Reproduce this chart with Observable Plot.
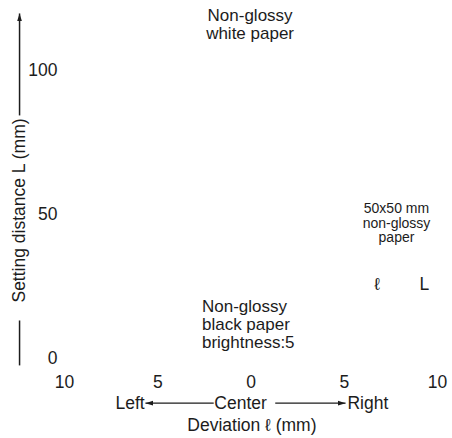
<!DOCTYPE html>
<html>
<head>
<meta charset="utf-8">
<script src="https://cdn.jsdelivr.net/npm/d3@7"></script>
<script src="https://cdn.jsdelivr.net/npm/@observablehq/plot@0.6"></script>
<style>
  html, body { margin: 0; padding: 0; background: #fff; }
</style>
</head>
<body>
<script>
// ---- data ----
const xTicks = [-10, -5, 0, 5, 10];
const yTicks = [0, 50, 100];
const xDomain = [-10, 10];
const yDomain = [0, 100];
const xTitle = "Deviation ℓ (mm)";
const yTitle = "Setting distance L (mm)";
const dirWords = ["Left", "Center", "Right"];
const dirX = [-5.7, -0.56, 5.17];
const noteTexts = ["Non-glossy\nwhite paper", "Non-glossy\nblack paper\nbrightness:5", "ℓ", "L"];
const noteX = [-0.05, -2.63, 6.78, 9.3];
const noteY = [116.1, 11.8, 25.7, 25.7];
const smallNote = ["50x50 mm\nnon-glossy\npaper"];
const smallNoteX = [7.8];
const smallNoteY = [47.0];

// arrow segments (data units)
const vArrows = [
  {x1: -12.41, y1: 84.4, x2: -12.41, y2: 119.8, head: true},
  {x1: -12.41, y1: -2.4, x2: -12.41, y2: 13.2, head: false}
];
const hArrows = [
  {x1: -2.0, y1: -15.5, x2: -5.66, y2: -15.5},
  {x1: 1.3, y1: -15.5, x2: 5.07, y2: -15.5}
];

const ink = "#1c1c1c";

function filledHead(color) {
  const ns = "http://www.w3.org/2000/svg";
  const m = document.createElementNS(ns, "marker");
  m.setAttribute("viewBox", "-8 -3 8 6");
  m.setAttribute("markerWidth", 8);
  m.setAttribute("markerHeight", 6);
  m.setAttribute("markerUnits", "userSpaceOnUse");
  m.setAttribute("orient", "auto");
  m.setAttribute("refX", 0);
  m.setAttribute("refY", 0);
  const p = document.createElementNS(ns, "path");
  p.setAttribute("d", "M-8,-2.5L0,0L-8,2.5Z");
  p.setAttribute("fill", color);
  p.setAttribute("stroke", "none");
  m.appendChild(p);
  return m;
}

const dirData = dirWords.map((t, i) => ({t, x: dirX[i]}));
const notes = noteTexts.map((t, i) => ({t, x: noteX[i], y: noteY[i]}));
const smallNotes = smallNote.map((t, i) => ({t, x: smallNoteX[i], y: smallNoteY[i]}));

const chart = Plot.plot({
  width: 452,
  height: 438,
  marginLeft: 64,
  marginRight: 15,
  marginTop: 70,
  marginBottom: 80,
  style: {fontFamily: "'Liberation Sans', Arial, Helvetica, sans-serif", fontSize: "17.5px", color: ink, background: "#fff"},
  x: {domain: xDomain},
  y: {domain: yDomain},
  marks: [
    Plot.axisX({ticks: xTicks, tickSize: 0, tickPadding: 17, tickFormat: d => Math.abs(d), label: null, fill: ink}),
    Plot.axisY({ticks: yTicks, tickSize: 0, tickPadding: 7, label: null, fill: ink}),
    // y title with arrow
    Plot.text([yTitle], {x: -12.41, y: 51.4, text: d => d, rotate: -90, fill: ink}),
    Plot.link(vArrows.filter(d => d.head), {x1: "x1", y1: "y1", x2: "x2", y2: "y2", stroke: ink, strokeWidth: 1.5, markerEnd: filledHead}),
    Plot.link(vArrows.filter(d => !d.head), {x1: "x1", y1: "y1", x2: "x2", y2: "y2", stroke: ink, strokeWidth: 1.5}),
    // x title
    Plot.text(dirData.slice(0, 1), {x: "x", y: -15.7, text: "t", textAnchor: "end", fill: ink}),
    Plot.text(dirData.slice(1, 2), {x: "x", y: -15.7, text: "t", fill: ink}),
    Plot.text(dirData.slice(2, 3), {x: "x", y: -15.7, text: "t", textAnchor: "start", fill: ink}),
    Plot.link(hArrows, {x1: "x1", y1: "y1", x2: "x2", y2: "y2", stroke: ink, strokeWidth: 1.3, markerEnd: filledHead}),
    Plot.text([xTitle], {x: 0.05, y: -23.1, text: d => d, fill: ink}),
    // annotations
    Plot.text(notes.slice(0, 1), {x: "x", y: "y", text: "t", fontSize: 17, lineHeight: 1.06, fill: ink}),
    Plot.text(notes.slice(1, 2), {x: "x", y: "y", text: "t", textAnchor: "start", fontSize: 17, lineHeight: 1.06, fill: ink}),
    Plot.text(notes.slice(2), {x: "x", y: "y", text: "t", fill: ink}),
    Plot.text(smallNotes, {x: "x", y: "y", text: "t", fontSize: 14, lineHeight: 1.04, fill: ink})
  ]
});
document.body.appendChild(chart);
</script>
</body>
</html>
